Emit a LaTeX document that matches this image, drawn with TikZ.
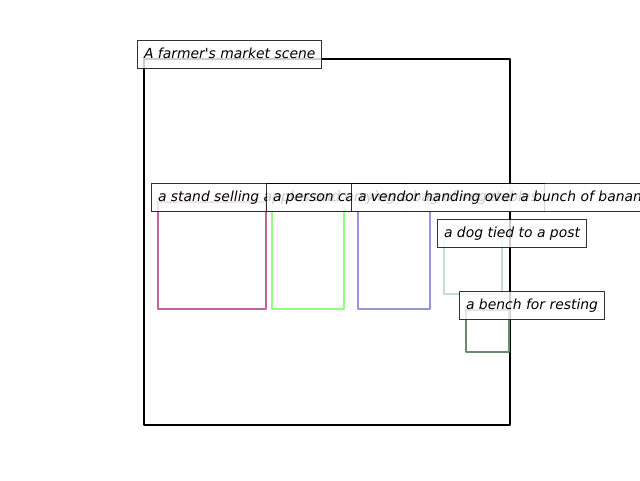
\documentclass[tikz,border=0pt]{standalone}
\usepackage{fontspec}
\setmainfont{DejaVu Sans}[Ligatures=TeXOff]
\begin{document}
\begin{tikzpicture}[x=1pt,y=-1pt,
  lab/.style={draw=black, draw opacity=0.8, line width=1.1pt, fill=white, fill opacity=0.8, text opacity=1,
    anchor=north west, inner xsep=6.5pt, inner ysep=0pt, minimum height=28pt,
    text height=10.5pt, text depth=3.5pt, font=\fontsize{13.9}{16}\selectfont\itshape},
  obj/.style={line width=2.4pt, line join=round}]
\useasboundingbox (0,0) rectangle (640,480);
\clip (0,0) rectangle (640,480);
% object boxes
\draw[obj, draw=black] (144,59) rectangle (510,425);
\draw[obj, draw={rgb,255:red,192;green,100;blue,160}] (158,202) rectangle (266,309);
\draw[obj, draw={rgb,255:red,144;green,255;blue,128}] (272,202) rectangle (344,309);
\draw[obj, draw={rgb,255:red,150;green,150;blue,208}] (358,202) rectangle (430,309);
\draw[obj, draw={rgb,255:red,200;green,222;blue,205}] (444,238) rectangle (502,294);
\draw[obj, draw={rgb,255:red,100;green,140;blue,110}] (466,310) rectangle (509,352);
% labels
\node[lab] (t0) at (137,40) {A farmer\textquotesingle s market scene};
\node[lab] (t1) at (151,183) {a stand selling apples and oranges};
\node[lab] (t2) at (266,183) {a person carrying a bag of vegetables};
\node[lab] (t3) at (351,183) {a vendor handing over a bunch of bananas};
\node[lab] (t4) at (437,219) {a dog tied to a post};
\node[lab] (t5) at (459,291) {a bench for resting};
\end{tikzpicture}
\end{document}
